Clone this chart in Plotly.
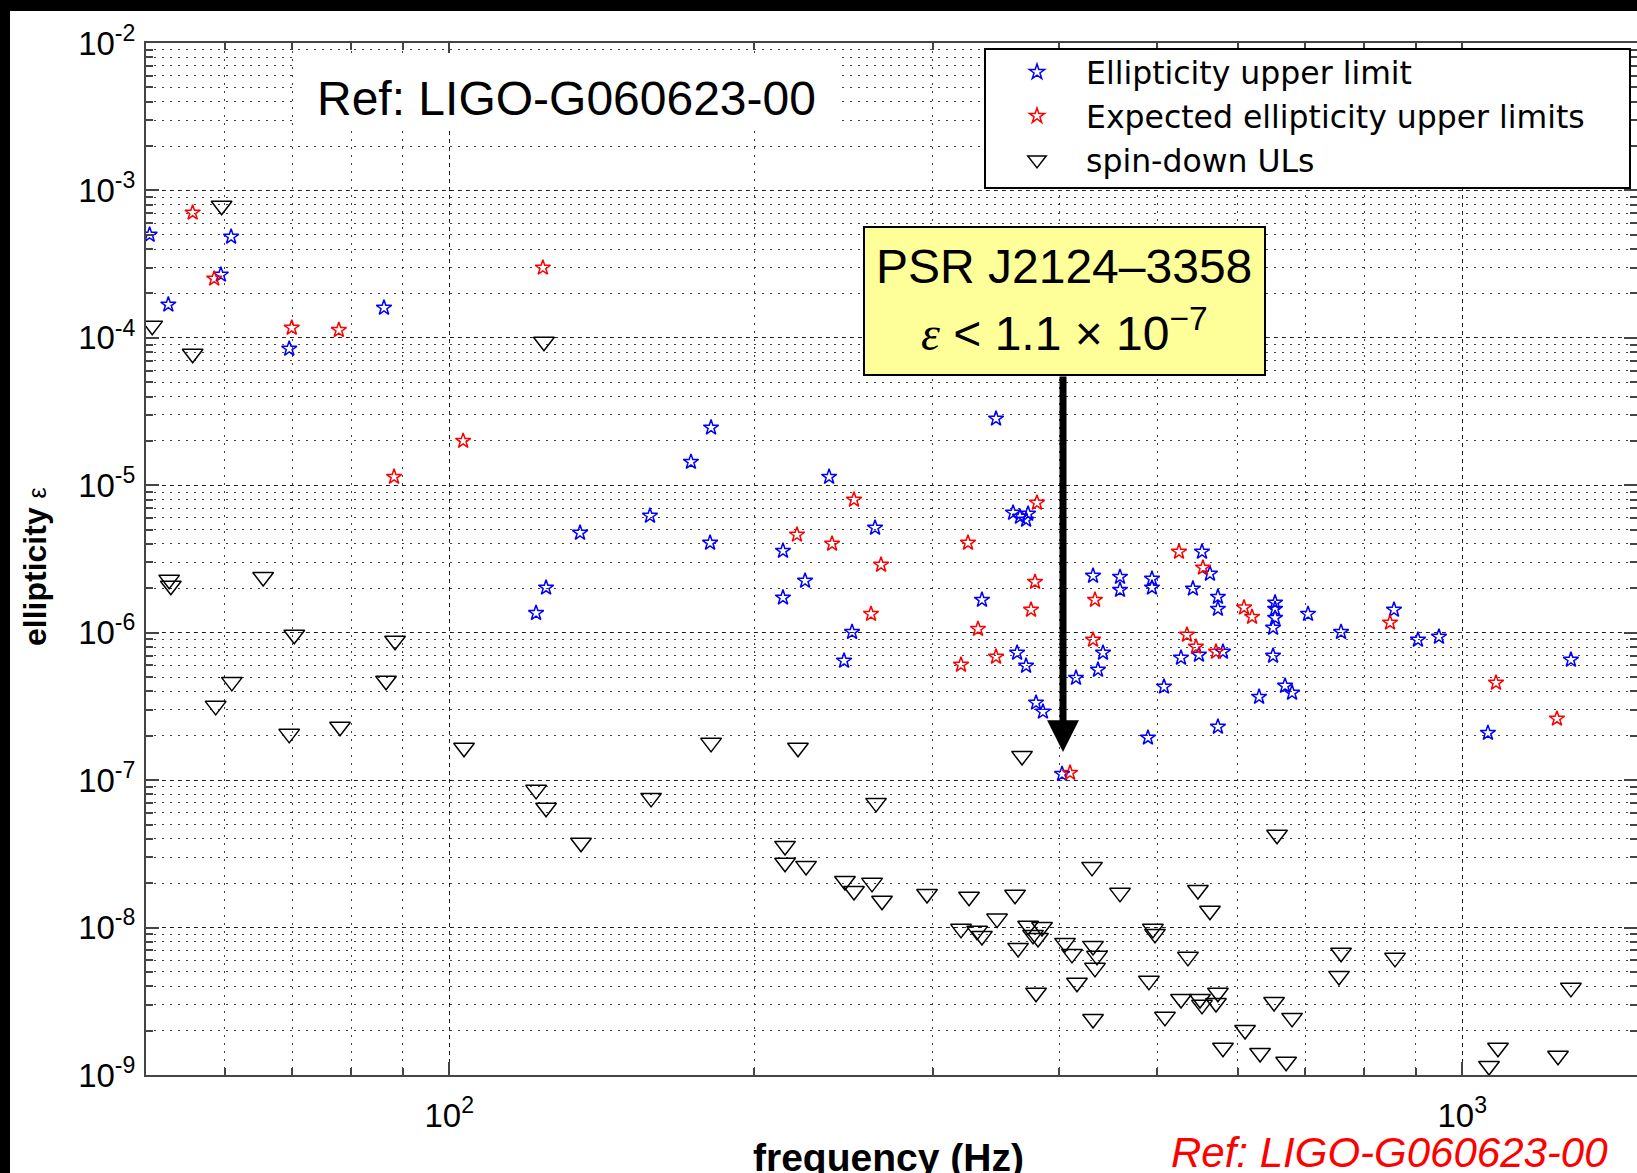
import plotly.graph_objects as go

# ---------------- data ----------------
# Ellipticity upper limit (blue stars)
ul_freq = [50.6, 60.9, 59.5, 52.8, 69.5, 86.2, 181.3, 173.2, 237.1, 157.8,
           134.6, 180.9, 213.5, 263.2, 124.6, 121.8, 224.5, 213.5, 249.8, 245.3,
           346.5, 360.2, 365.9, 371.0, 372.7, 335.6, 363.5, 371.0, 379.5, 385.5,
           415.6, 402.6, 432.0, 441.9, 436.9, 459.3, 459.3, 493.9, 493.9, 553.4,
           563.5, 542.1, 573.8, 573.8, 527.6, 549.6, 580.4, 507.6, 489.4, 573.8,
           653.4, 653.4, 653.4, 650.4, 650.4, 630.1, 668.4, 679.1, 704.2, 759.1,
           856.2, 904.1, 948.3, 1280.0, 1060.0]
ul_eps = [5.0e-4, 4.85e-4, 2.68e-4, 1.68e-4, 8.43e-5, 1.60e-4, 2.46e-5, 1.44e-5, 1.14e-5, 6.21e-6,
          4.76e-6, 4.07e-6, 3.59e-6, 5.15e-6, 2.02e-6, 1.36e-6, 2.25e-6, 1.73e-6, 1.01e-6, 6.45e-7,
          2.83e-5, 6.51e-6, 6.11e-6, 5.83e-6, 6.41e-6, 1.67e-6, 7.31e-7, 5.96e-7, 3.35e-7, 2.91e-7,
          4.94e-7, 1.1e-7, 2.43e-6, 7.31e-7, 5.60e-7, 2.39e-6, 1.95e-6, 2.32e-6, 2.02e-6, 3.54e-6,
          2.51e-6, 1.99e-6, 1.75e-6, 1.45e-6, 6.76e-7, 7.08e-7, 7.42e-7, 4.30e-7, 1.94e-7, 2.30e-7,
          1.60e-6, 1.45e-6, 1.26e-6, 1.08e-6, 6.97e-7, 3.67e-7, 4.36e-7, 3.91e-7, 1.34e-6, 1.01e-6,
          1.43e-6, 8.95e-7, 9.38e-7, 6.55e-7, 2.09e-7]

# Expected ellipticity upper limits (red stars)
exp_freq = [55.8, 58.6, 69.9, 77.8, 123.7, 103.2, 88.2, 250.9, 220.4, 238.7,
            266.8, 260.8, 380.3, 325.1, 378.6, 375.2, 332.6, 320.0, 346.5, 410.0,
            433.9, 432.0, 525.2, 554.6, 534.8, 545.9, 571.3, 608.9, 620.1, 848.5,
            1079.6, 1240.0]
exp_eps = [7.06e-4, 2.52e-4, 1.17e-4, 1.13e-4, 2.99e-4, 2.00e-5, 1.14e-5, 7.97e-6, 4.62e-6, 4.01e-6,
           2.89e-6, 1.34e-6, 7.61e-6, 4.07e-6, 2.21e-6, 1.43e-6, 1.06e-6, 6.06e-7, 6.86e-7, 1.12e-7,
           1.67e-6, 8.95e-7, 3.54e-6, 2.76e-6, 9.68e-7, 8.02e-7, 7.42e-7, 1.48e-6, 1.28e-6, 1.17e-6,
           4.57e-7, 2.61e-7]

# spin-down upper limits (black open down-triangles)
sd_freq = [59.6, 50.9, 55.8, 124.0, 52.9, 53.1, 65.5, 70.3, 88.4, 86.6,
           61.0, 58.8, 69.5, 78.0, 103.4, 181.3, 220.9, 367.6, 121.8, 124.6,
           134.9, 158.2, 263.8, 214.5, 214.5, 225.0, 245.8, 261.4, 250.9, 267.4,
           296.2, 325.9, 361.8, 347.3, 320.0, 331.9, 335.6, 372.7, 376.9, 384.7,
           381.2, 364.3, 379.5, 405.3, 411.8, 416.5, 431.0, 432.0, 435.9, 433.9,
           432.0, 459.3, 495.0, 497.3, 490.5, 508.7, 536.0, 527.6, 548.3, 563.5,
           550.9, 553.4, 573.8, 571.3, 580.4, 610.3, 631.5, 651.9, 679.1, 670.0,
           656.3, 759.1, 755.6, 858.2, 1084.5, 1062.6, 1243.0, 1280.0]
sd_eps = [7.87e-4, 1.21e-4, 7.80e-5, 9.41e-5, 2.29e-6, 2.08e-6, 2.39e-6, 9.68e-7, 8.81e-7, 4.72e-7,
          4.64e-7, 3.19e-7, 2.06e-7, 2.30e-7, 1.66e-7, 1.79e-7, 1.66e-7, 1.46e-7, 8.59e-8, 6.49e-8,
          3.76e-8, 7.58e-8, 7.01e-8, 3.58e-8, 2.75e-8, 2.62e-8, 2.07e-8, 2.01e-8, 1.77e-8, 1.52e-8,
          1.69e-8, 1.62e-8, 1.67e-8, 1.15e-8, 9.80e-9, 9.50e-9, 8.78e-9, 1.03e-8, 8.92e-9, 1.01e-8,
          8.51e-9, 7.28e-9, 3.61e-9, 7.87e-9, 6.63e-9, 4.22e-9, 2.58e-8, 7.51e-9, 6.43e-9, 5.33e-9,
          2.40e-9, 1.72e-8, 9.80e-9, 9.06e-9, 4.35e-9, 2.48e-9, 6.33e-9, 3.28e-9, 1.80e-8, 1.30e-8,
          3.28e-9, 2.99e-9, 3.61e-9, 3.08e-9, 1.53e-9, 2.02e-9, 1.41e-9, 3.13e-9, 2.44e-9, 1.23e-9,
          4.26e-8, 6.74e-9, 4.70e-9, 6.23e-9, 1.53e-9, 1.15e-9, 1.35e-9, 3.90e-9]

series_names = ["Ellipticity upper limit", "Expected ellipticity upper limits", "spin-down ULs"]

x_tickvals = [100, 1000]
x_ticktext = ["10<sup>2</sup>", "10<sup>3</sup>"]
y_tickvals = [1e-2, 1e-3, 1e-4, 1e-5, 1e-6, 1e-7, 1e-8, 1e-9]
y_ticktext = ["10<sup>-%d</sup>" % n for n in range(2, 10)]

# ---------------- layout geometry ----------------
W, H = 1637, 1173
L, R, T, B = 146, 0, 43, 98
PW, PH = W - L - R, H - T - B


def px(xp):
    return (xp - L) / PW


def py(yp):
    return 1 - (yp - T) / PH


SANS = "Liberation Sans, Arial, Helvetica, sans-serif"

fig = go.Figure()
fig.add_trace(go.Scatter(x=ul_freq, y=ul_eps, mode="markers", name=series_names[0],
                         legendgroup="a",
                         marker=dict(symbol="star-open", size=11.5, color="#0000FF",
                                     line=dict(width=1.5, color="#0000FF"))))
fig.add_trace(go.Scatter(x=exp_freq, y=exp_eps, mode="markers", name=series_names[1],
                         legendgroup="b",
                         marker=dict(symbol="star-open", size=11.5, color="#FF0000",
                                     line=dict(width=1.5, color="#FF0000"))))
fig.add_trace(go.Scatter(x=sd_freq, y=sd_eps, mode="markers", name=series_names[2],
                         legendgroup="c",
                         marker=dict(symbol="triangle-down-open", size=18, color="#000000",
                                     line=dict(width=1.5, color="#000000"))))

grid_major = dict(showgrid=True, gridcolor="rgba(0,0,0,0.8)", gridwidth=1, griddash="4px,4px")
minor = dict(dtick="D1", ticks="inside", ticklen=7, tickwidth=1.5, tickcolor="#444",
             showgrid=True, gridcolor="rgba(0,0,0,0.75)", gridwidth=1, griddash="2px,6px")

fig.update_xaxes(type="log", range=[1.70059, 3.17246], showline=True, linecolor="#444",
                 linewidth=2, mirror="ticks", ticks="inside", ticklen=13, tickwidth=1.5,
                 tickcolor="#444", tickmode="array", tickvals=x_tickvals, ticktext=x_ticktext,
                 tickfont=dict(family=SANS, size=33, color="black"), zeroline=False,
                 automargin=False, minor=minor, ticklabelstandoff=10, **grid_major)
fig.update_yaxes(type="log", range=[-9, -2], showline=True, linecolor="#444",
                 linewidth=2, mirror="ticks", ticks="inside", ticklen=13, tickwidth=1.5,
                 tickcolor="#444", tickmode="array", tickvals=y_tickvals, ticktext=y_ticktext,
                 tickfont=dict(family=SANS, size=33, color="black"), zeroline=False,
                 automargin=False, minor=minor, ticklabelstandoff=2, **grid_major)

shapes = [
    # white page area
    dict(type="rect", xref="paper", yref="paper", x0=px(10), x1=px(W + 5), y0=py(H + 5), y1=py(11),
         fillcolor="white", line=dict(width=0), layer="below"),
    # white box behind the top reference text
    dict(type="rect", xref="paper", yref="paper", x0=px(296), x1=px(836), y0=py(128), y1=py(53),
         fillcolor="white", line=dict(width=0), layer="above"),
    # legend box
    dict(type="rect", xref="paper", yref="paper", x0=px(985), x1=px(1630), y0=py(188), y1=py(49),
         fillcolor="white", line=dict(width=2, color="black"), layer="above"),
    # yellow call-out box
    dict(type="rect", xref="paper", yref="paper", x0=px(864), x1=px(1265), y0=py(375), y1=py(227),
         fillcolor="#FFFF99", line=dict(width=2, color="black"), layer="above"),
]

annotations = [
    dict(text="Ref: LIGO-G060623-00", xref="paper", yref="paper", x=px(566), y=py(98.5),
         xanchor="center", yanchor="middle", showarrow=False,
         font=dict(family=SANS, size=48, color="black")),
    dict(text="PSR J2124\u20133358", xref="paper", yref="paper", x=px(1064), y=py(266.5),
         xanchor="center", yanchor="middle", showarrow=False,
         font=dict(family=SANS, size=48, color="black")),
    dict(text="<span style='font-family:Liberation Serif, Times New Roman, serif'><i>\u03b5</i></span>"
              " &lt; 1.1 \u00d7 10<sup>\u22127</sup>",
         xref="paper", yref="paper", x=px(1064), y=py(362),
         xanchor="center", yanchor="bottom", showarrow=False,
         font=dict(family=SANS, size=48, color="black")),
    dict(text="", xref="paper", yref="paper", x=px(1063), y=py(752), showarrow=True,
         axref="pixel", ayref="pixel", ax=0, ay=-377, arrowhead=2, arrowsize=0.91,
         arrowwidth=7, arrowcolor="black"),
    dict(text="<i>Ref: LIGO-G060623-00</i>", xref="paper", yref="paper", x=px(1389), y=py(1152),
         xanchor="center", yanchor="middle", showarrow=False,
         font=dict(family=SANS, size=42, color="#FF0000")),
    dict(text="<b>frequency (Hz)</b>", xref="paper", yref="paper", x=px(888), y=py(1157),
         xanchor="center", yanchor="middle", showarrow=False,
         font=dict(family=SANS, size=39, color="black")),
    dict(text="<b>ellipticity</b> <span style='font-size:25px'>\u03b5</span>", xref="paper", yref="paper",
         x=px(35), y=py(567), xanchor="center", yanchor="middle", textangle=-90, showarrow=False,
         font=dict(family=SANS, size=32, color="black")),
]

fig.update_layout(
    width=W, height=H,
    margin=dict(l=L, r=R, t=T, b=B, pad=0),
    paper_bgcolor="black", plot_bgcolor="white",
    shapes=shapes, annotations=annotations,
    showlegend=True,
    legend=dict(x=px(988), y=py(45), xanchor="left", yanchor="top",
                bgcolor="rgba(0,0,0,0)", borderwidth=0, itemwidth=88,
                font=dict(family="DejaVu Sans, sans-serif", size=31.5, color="black"),
                tracegroupgap=0, itemclick=False),
)

fig.write_html("out.html")
